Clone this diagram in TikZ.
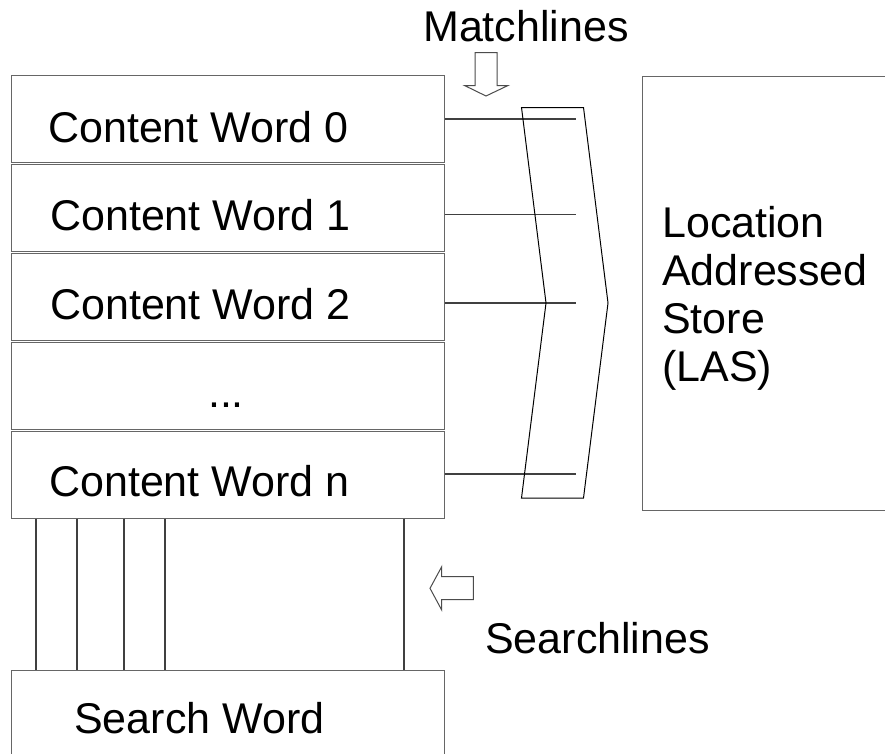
\documentclass[tikz,border=0pt]{standalone}
\usepackage{fontspec}
\setmainfont{Liberation Sans}
\begin{document}
\begin{tikzpicture}[x=1pt,y=-1pt,
  box/.style={draw=black!60, line width=1.2pt, inner sep=0pt, anchor=north west},
  lbl/.style={font=\fontsize{43}{49}\selectfont, inner sep=0pt},
  wire/.style={draw=black!75, line width=1.1pt},
  outline/.style={draw=black, line width=1pt, line join=miter}]
\clip (0,0) rectangle (885,753);
\fill[white] (0,0) rectangle (885,753);

% content words of the CAM
\foreach \i/\t in {0/75,1/164,2/253,3/342,4/431}
  \node[box, minimum width=433pt, minimum height=86.5pt] (w\i) at (11,\t) {};
\node[lbl, anchor=base west] (t0) at (48,142) {Content Word 0};
\node[lbl, anchor=base west] (t1) at (50,230) {Content Word 1};
\node[lbl, anchor=base west] (t2) at (50,319) {Content Word 2};
\node[lbl, anchor=base] (t3) at (226,407) {...};
\node[lbl, anchor=base west] (t4) at (49,496) {Content Word n};

% location addressed store
\node[box, minimum width=260pt, minimum height=434pt] (las) at (642,76) {};
\node[lbl, anchor=base west] (l1) at (662,237) {Location};
\node[lbl, anchor=base west] (l2) at (662,285) {Addressed};
\node[lbl, anchor=base west] (l3) at (662,333) {Store};
\node[lbl, anchor=base west] (l4) at (662,381) {(LAS)};

% search word register
\node[box, minimum width=433pt, minimum height=100pt] (sw) at (11,670) {};
\node[lbl, anchor=base west] (st) at (74,733) {Search Word};

% searchlines
\foreach \dx in {25,66,113,154,393}
  \draw[wire] ([xshift=\dx pt]w4.south west) -- ([xshift=\dx pt]sw.north west);

% matchlines
\foreach \i/\y in {0/119,1/214.5,2/303,4/474} {
  \coordinate (m\i) at (576,\y);
  \draw[wire] (w\i.east |- m\i) -- (m\i);
}

% encoder chevron
\draw[outline] (521.5,107.5) -- (583.5,107.5) -- (608,303) -- (583.5,498)
  -- (521.5,498) -- (546,303) -- cycle;

% block arrows and captions
\node[lbl, anchor=base west] (ml) at (423,41) {Matchlines};
\draw[outline, draw=black!70] (475,52.5) -- (497,52.5) -- (497,85.5) -- (508,85.5)
  -- (486,96) -- (464.5,85.5) -- (475,85.5) -- cycle;
\node[lbl, anchor=base west] (sl) at (485,653) {Searchlines};
\draw[outline, draw=black!70] (430,588.3) -- (441.7,566.7) -- (441.7,576.7) -- (473.3,576.7)
  -- (473.3,599.5) -- (441.7,599.5) -- (441.7,610) -- cycle;
\end{tikzpicture}
\end{document}
